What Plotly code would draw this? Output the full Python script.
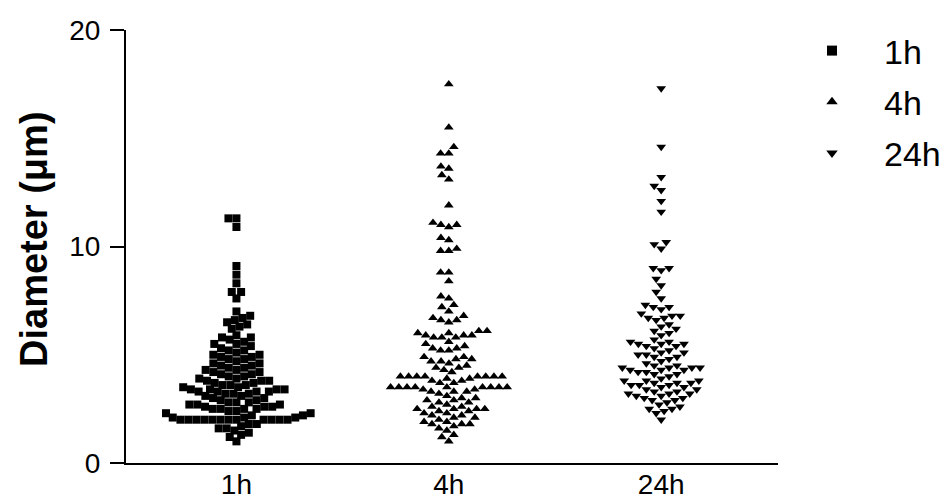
import math
import plotly.graph_objects as go

categories = ["1h", "4h", "24h"]

diam_1h = [
    11.3, 11.3, 10.9,
    9.1, 8.7, 8.3, 7.9, 7.9, 7.6,
    7.0, 6.8, 6.7, 6.6, 6.5, 6.4, 6.3, 6.2,
    5.9, 5.8, 5.8, 5.7, 5.6, 5.5, 5.5, 5.4,
    5.3, 5.2, 5.2, 5.1, 5.0, 5.0, 4.9, 4.9, 4.8, 4.8,
    4.7, 4.6, 4.6, 4.5, 4.5, 4.4, 4.4, 4.3, 4.3, 4.2, 4.2, 4.1, 4.1,
    4.0, 4.0, 3.9, 3.9, 3.8, 3.8, 3.8, 3.7, 3.7, 3.6, 3.6, 3.6,
    3.5, 3.5, 3.4, 3.4, 3.4, 3.4, 3.3, 3.3, 3.3, 3.3, 3.2, 3.2, 3.2, 3.1, 3.1, 3.0, 3.0,
    2.9, 2.9, 2.8, 2.8, 2.8, 2.7, 2.7, 2.7, 2.6, 2.6, 2.6, 2.5, 2.5, 2.5, 2.5, 2.4, 2.4, 2.3, 2.3,
    2.2, 2.2, 2.1, 2.1, 2.1,
    2.0, 2.0, 2.0, 2.0, 2.0, 2.0, 2.0, 2.0, 2.0, 2.0, 2.0, 2.0,
    1.8, 1.8, 1.7, 1.6, 1.6, 1.5, 1.4,
    1.3, 1.2, 1.0,
]

diam_4h = [
    17.5, 15.5, 14.6, 14.3, 14.3, 13.7, 13.6, 13.3, 13.1, 11.9,
    11.1, 11.0, 11.0, 10.9, 10.4, 10.3, 9.9, 9.8, 9.8, 8.8, 8.8, 8.4,
    7.7, 7.6, 7.3, 7.2, 7.0, 6.8, 6.7, 6.6, 6.6, 6.5,
    6.1, 6.1, 6.0, 6.0, 5.9, 5.9, 5.9, 5.8, 5.8, 5.8,
    5.6, 5.5, 5.4, 5.3, 5.3, 5.2, 5.2,
    4.9, 4.9, 4.8, 4.8, 4.7, 4.7, 4.6,
    4.5, 4.4, 4.4, 4.3, 4.2,
    4.0, 4.0, 4.0, 4.0, 4.0, 4.0, 4.0, 4.0, 3.9, 3.9, 3.8, 3.8, 3.7, 3.7,
    3.5, 3.5, 3.5, 3.5, 3.5, 3.5, 3.5, 3.5, 3.5, 3.4, 3.4, 3.3, 3.3, 3.3, 3.2,
    3.1, 3.0, 3.0, 2.9, 2.9, 2.8, 2.8, 2.7,
    2.6, 2.6, 2.5, 2.5, 2.5, 2.5, 2.4, 2.4, 2.3, 2.3, 2.2, 2.2, 2.1, 2.1, 2.0,
    1.9, 1.9, 1.8, 1.8, 1.8, 1.7, 1.6, 1.5,
    1.3, 1.2, 1.0,
]

diam_24h = [
    17.3, 14.6, 13.2, 12.8, 12.6, 12.1, 11.6, 10.2, 10.1, 9.9,
    9.0, 9.0, 8.9, 8.5, 8.2, 7.9, 7.6,
    7.3, 7.2, 7.2, 7.1, 6.9, 6.8, 6.8, 6.7, 6.7, 6.6,
    6.4, 6.3, 6.2, 6.1, 6.0, 5.9,
    5.7, 5.6, 5.6, 5.5, 5.5, 5.5, 5.4, 5.4, 5.3,
    5.2, 5.1, 5.1, 5.0, 5.0, 4.9, 4.9, 4.8, 4.7, 4.6,
    4.5, 4.5, 4.4, 4.4, 4.4, 4.4, 4.3, 4.3, 4.3, 4.2, 4.2, 4.1, 4.1, 4.0,
    3.9, 3.8, 3.8, 3.8, 3.7, 3.7, 3.7, 3.6, 3.6, 3.6, 3.5, 3.5, 3.4, 3.4,
    3.3, 3.3, 3.2, 3.2, 3.2, 3.1, 3.1, 3.0, 3.0, 2.9, 2.9, 2.8,
    2.7, 2.6, 2.5, 2.5, 2.4, 2.3,
    2.0,
]

y_ticks = [0, 10, 20]

# ---- layout geometry ----
W, H = 951, 501
ML, MR, MT, MB = 118, 181, 22, 46
X_RANGE = [-0.52, 2.55]
Y_RANGE = [0, 20]
plot_w = W - ML - MR
plot_h = H - MT - MB
px_per_x = plot_w / (X_RANGE[1] - X_RANGE[0])
px_per_y = plot_h / (Y_RANGE[1] - Y_RANGE[0])


def swarm_offsets(vals, d):
    """Deterministic beeswarm: pixel offsets so markers don't overlap."""
    placed = []
    offs = [0.0] * len(vals)
    order = sorted(range(len(vals)), key=lambda i: vals[i])
    for i in order:
        y = vals[i] * px_per_y
        cands = [0.0]
        for (px, py) in placed:
            dy = abs(py - y)
            if dy < d:
                dx = math.sqrt(d * d - dy * dy)
                cands += [px + dx, px - dx]
        cands.sort(key=lambda c: (abs(c), c))
        for c in cands:
            if all((c - px) ** 2 + (y - py) ** 2 >= d * d - 1e-6 for px, py in placed):
                offs[i] = c
                placed.append((c, y))
                break
    return [o / px_per_x for o in offs]


series = [diam_1h, diam_4h, diam_24h]
symbols = ["square", "triangle-up", "triangle-down"]
sizes = [8, 8.5, 8.5]
spacing = [8.0, 8.2, 8.2]

FONT = "Arial, 'Liberation Sans', sans-serif"

fig = go.Figure()
for k, (name, vals, sym, sz, sp) in enumerate(zip(categories, series, symbols, sizes, spacing)):
    offs = swarm_offsets(vals, sp)
    fig.add_trace(go.Scatter(
        x=[k + o for o in offs], y=vals, mode="markers", name=name,
        marker=dict(symbol=sym, size=sz, color="black", line=dict(width=0)),
        showlegend=False, hoverinfo="y",
    ))
    fig.add_trace(go.Scatter(
        x=[None], y=[None], mode="markers", name=name, legendgroup=name,
        marker=dict(symbol=sym, size=10, color="black"),
        showlegend=True,
    ))

fig.add_annotation(
    text="Diameter (\u03bcm)", textangle=-90,
    xref="paper", yref="paper",
    x=(26 - ML) / plot_w, y=(H - MB - 231) / plot_h,
    xanchor="center", yanchor="middle", showarrow=False,
    font=dict(size=38, weight="bold", family=FONT, color="black"),
)

fig.update_layout(
    width=W, height=H,
    margin=dict(l=ML, r=MR, t=MT, b=MB, autoexpand=False),
    paper_bgcolor="white", plot_bgcolor="white",
    font=dict(family=FONT, color="black", size=28),
    showlegend=True,
    legend=dict(
        x=(772 - ML) / plot_w, y=(H - MB - 14) / plot_h, xanchor="left", yanchor="top",
        font=dict(size=34, family=FONT, color="black"),
        itemwidth=94, tracegroupgap=4, bgcolor="rgba(0,0,0,0)",
    ),
    xaxis=dict(
        range=X_RANGE, tickmode="array", tickvals=[0, 1, 2], ticktext=categories,
        showline=True, linecolor="black", linewidth=2, ticks="", ticklen=0,
        ticklabelstandoff=-5,
        showgrid=False, zeroline=False, tickfont=dict(size=28),
        automargin=False,
    ),
    yaxis=dict(
        range=Y_RANGE, tickmode="array", tickvals=y_ticks,
        showline=True, linecolor="black", linewidth=2,
        ticks="outside", ticklen=14, tickwidth=2, tickcolor="black",
        ticklabelstandoff=4,
        showgrid=False, zeroline=False, tickfont=dict(size=28),
        automargin=False,
    ),
)

fig.write_html("out.html")
